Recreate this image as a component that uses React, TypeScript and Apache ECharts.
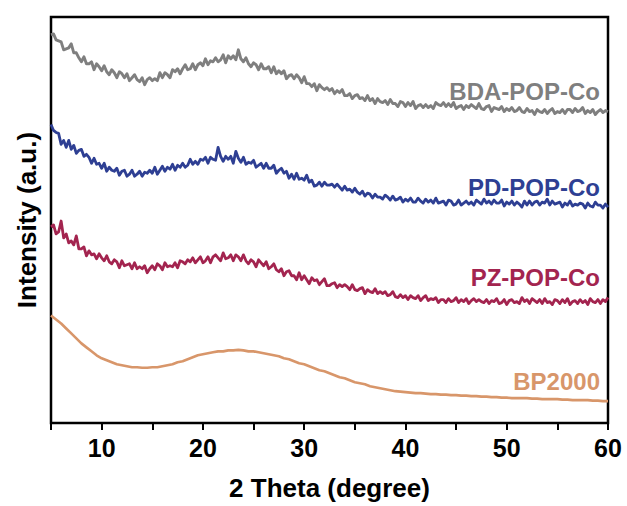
import React, { useEffect, useRef } from "react";
import * as echarts from "echarts";

// XRD patterns from 2θ = 5° to 60°, stacked with vertical offsets (a.u.)
const TWO_THETA_START = 5;
const POP_STEP = 0.25; // sampling step of the POP-Co scans
const BP_STEP = 0.5; // sampling step of the BP2000 scan

const bdaPopCo = [
  390, 391, 385, 384, 383, 375, 376, 377, 381, 372, 372, 367, 363, 368, 361, 361, 363, 355, 361, 358,
  354, 359, 353, 350, 355, 352, 347, 353, 351, 347, 351, 344, 347, 350, 345, 343, 347, 340, 345, 347,
  344, 346, 344, 352, 347, 352, 350, 347, 355, 353, 356, 351, 356, 360, 355, 356, 361, 355, 360, 362,
  359, 366, 360, 364, 363, 367, 363, 365, 370, 362, 369, 366, 369, 365, 375, 366, 363, 367, 361, 358,
  362, 360, 355, 361, 356, 356, 358, 352, 358, 351, 354, 351, 354, 346, 349, 350, 346, 350, 347, 342,
  348, 341, 341, 338, 341, 334, 340, 337, 335, 337, 334, 336, 331, 334, 332, 335, 329, 329, 331, 326,
  329, 330, 326, 327, 324, 329, 324, 326, 321, 326, 323, 322, 324, 320, 325, 321, 321, 318, 323, 322,
  318, 322, 319, 323, 316, 319, 320, 317, 320, 317, 319, 316, 322, 320, 319, 322, 318, 321, 318, 322,
  316, 318, 319, 315, 319, 317, 320, 318, 316, 321, 316, 315, 318, 319, 313, 317, 316, 315, 318, 313,
  316, 314, 317, 313, 314, 317, 313, 312, 316, 313, 314, 310, 315, 313, 312, 315, 311, 314, 316, 311,
  313, 312, 315, 311, 315, 315, 312, 316, 313, 314, 317, 311, 314, 312, 315, 310, 313, 315, 312, 314, 313,
];

const pdPopCo = [
  300, 294, 292, 291, 280, 284, 277, 284, 275, 279, 271, 274, 275, 268, 270, 267, 261, 266, 260, 261,
  256, 261, 253, 257, 254, 253, 256, 249, 253, 254, 248, 250, 254, 248, 250, 253, 248, 252, 251, 254,
  251, 257, 250, 254, 258, 253, 257, 255, 260, 254, 259, 257, 261, 257, 259, 265, 260, 263, 260, 265,
  264, 267, 261, 267, 265, 264, 277, 268, 263, 268, 265, 268, 261, 273, 266, 262, 267, 260, 262, 261,
  264, 257, 259, 261, 256, 261, 256, 256, 259, 251, 254, 256, 251, 253, 246, 250, 245, 251, 245, 246,
  244, 249, 242, 244, 238, 239, 242, 238, 242, 239, 239, 240, 237, 240, 237, 234, 238, 234, 235, 232,
  236, 232, 230, 233, 228, 231, 230, 226, 230, 227, 227, 225, 229, 227, 224, 228, 224, 225, 227, 222,
  225, 223, 226, 222, 222, 226, 223, 221, 225, 222, 224, 221, 226, 221, 222, 223, 219, 224, 223, 219,
  220, 224, 219, 221, 223, 220, 222, 219, 224, 222, 220, 225, 221, 223, 220, 224, 221, 221, 224, 218,
  222, 220, 223, 219, 222, 220, 217, 223, 219, 223, 219, 222, 223, 219, 222, 221, 225, 219, 223, 220,
  221, 222, 217, 221, 219, 223, 218, 220, 219, 221, 220, 216, 221, 218, 217, 222, 219, 219, 216, 220, 217,
];

const pzPopCo = [
  197, 199, 190, 192, 203, 186, 190, 181, 183, 179, 188, 175, 175, 177, 168, 173, 169, 170, 165, 170,
  166, 163, 168, 162, 160, 164, 162, 156, 163, 158, 159, 160, 155, 161, 155, 157, 155, 158, 151, 155,
  158, 154, 160, 158, 154, 161, 157, 158, 157, 161, 156, 163, 162, 160, 164, 162, 166, 161, 164, 167,
  161, 163, 167, 161, 167, 169, 166, 163, 171, 165, 166, 169, 163, 169, 167, 163, 169, 163, 160, 164,
  162, 157, 164, 161, 158, 162, 155, 157, 160, 154, 152, 155, 148, 152, 153, 148, 148, 144, 151, 144,
  148, 144, 140, 146, 143, 144, 139, 142, 145, 138, 138, 140, 141, 136, 139, 137, 139, 137, 134, 139,
  134, 133, 135, 136, 130, 134, 132, 131, 135, 130, 132, 130, 132, 128, 129, 132, 127, 126, 129, 126,
  128, 124, 128, 126, 125, 128, 123, 126, 128, 123, 125, 124, 126, 121, 124, 124, 121, 125, 122, 123,
  126, 121, 124, 122, 125, 120, 123, 125, 122, 124, 122, 121, 124, 120, 123, 122, 125, 120, 121, 124,
  119, 123, 124, 121, 122, 120, 126, 122, 124, 120, 125, 123, 121, 124, 120, 125, 121, 122, 119, 124,
  123, 120, 124, 121, 125, 119, 122, 123, 120, 124, 121, 123, 119, 125, 122, 121, 124, 120, 124, 122, 126,
];

const bp2000 = [
  108, 104, 100, 95, 90, 85, 80, 76, 72, 68, 65, 63, 61, 59, 58, 57, 56, 56, 55.5, 55.5,
  56, 56, 57, 58, 59, 61, 62, 64, 66, 68, 69, 70, 71, 72, 72, 73, 73, 73.5, 73, 72,
  72, 71, 70, 69, 68, 67, 65, 64, 62, 60, 59, 57, 55, 53, 52, 50, 48, 46, 45, 43,
  41, 40, 39, 37, 36, 35, 34, 33, 32, 31.5, 31, 30.5, 30, 30, 29.5, 29, 29, 28.5, 28.5, 28,
  28, 27.5, 27.5, 27, 27, 26.5, 26.5, 26, 26, 25.5, 25.5, 25, 25, 25, 25, 24.5, 24.5, 24, 24, 24,
  24, 23.5, 23.5, 23, 23, 23, 23, 22.5, 22.5, 22, 22,
];

const seriesNames = ["BDA-POP-Co", "PD-POP-Co", "PZ-POP-Co", "BP2000"];
const seriesColors = ["#7f7f7f", "#2e3f93", "#a3244f", "#d8966a"];
const seriesWidths = [2.9, 2.8, 2.8, 2.6];
const seriesValues = [bdaPopCo, pdPopCo, pzPopCo, bp2000];
const seriesSteps = [POP_STEP, POP_STEP, POP_STEP, BP_STEP];

const xMin = 5;
const xMax = 60;
const xTickStep = 5;

const FONT = "'Liberation Sans', Arial, Helvetica, sans-serif";

const toPairs = (values: number[], step: number) =>
  values.map((v, i) => [TWO_THETA_START + i * step, v]);

export default function App() {
  const ref = useRef<HTMLDivElement>(null);

  useEffect(() => {
    if (!ref.current) return;
    const chart = echarts.init(ref.current, undefined, { renderer: "svg" });

    chart.setOption({
      animation: false,
      backgroundColor: "#ffffff",
      grid: {
        left: 51,
        right: 19,
        top: 17,
        bottom: 81,
        show: true,
        borderColor: "#000000",
        borderWidth: 2.5,
        backgroundColor: "transparent",
      },
      xAxis: {
        type: "value",
        min: xMin,
        max: xMax,
        interval: xTickStep,
        name: "2 Theta (degree)",
        nameLocation: "middle",
        nameGap: 52,
        nameTextStyle: { fontFamily: FONT, fontWeight: "bold", fontSize: 26, color: "#000" },
        axisLine: { show: false },
        axisTick: { show: true, length: 7, lineStyle: { color: "#000", width: 2 } },
        axisLabel: {
          fontFamily: FONT,
          fontWeight: "bold",
          fontSize: 25,
          color: "#000",
          margin: 12,
          formatter: (v: number) => (v % 10 === 0 ? String(v) : ""),
        },
        splitLine: { show: false },
      },
      yAxis: {
        type: "value",
        min: 0,
        max: 408,
        name: "Intensity (a.u.)",
        nameLocation: "middle",
        nameGap: 11,
        nameTextStyle: { fontFamily: FONT, fontWeight: "bold", fontSize: 26, color: "#000" },
        axisLine: { show: false },
        axisTick: { show: false },
        axisLabel: { show: false },
        splitLine: { show: false },
      },
      series: seriesValues.map((values, i) => ({
        name: seriesNames[i],
        type: "line",
        data: toPairs(values, seriesSteps[i]),
        showSymbol: false,
        symbol: "none",
        lineStyle: { color: seriesColors[i], width: seriesWidths[i], join: "round" },
        itemStyle: { color: seriesColors[i] },
        endLabel: {
          show: true,
          formatter: seriesNames[i],
          color: seriesColors[i],
          fontFamily: FONT,
          fontWeight: "bold",
          fontSize: 24,
          align: "right",
          verticalAlign: "bottom",
          distance: 0,
          offset: [-8, -8],
        },
      })),
    });

    return () => chart.dispose();
  }, []);

  return (
    <div
      ref={ref}
      style={{ position: "fixed", left: 0, top: 0, width: 627, height: 506, background: "#fff" }}
    />
  );
}
